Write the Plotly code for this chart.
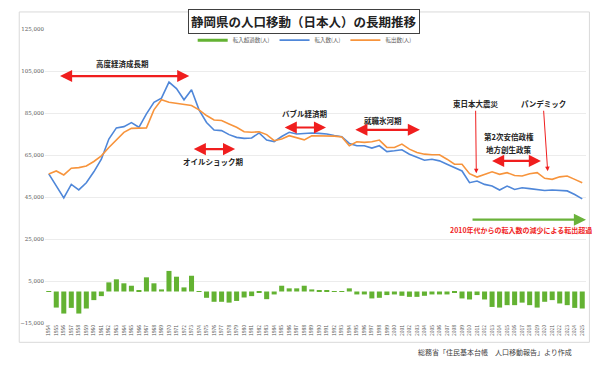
import plotly.graph_objects as go

years = list(range(1954, 2026))
inflow = [56000, 50500, 44600, 51000, 48400, 51800, 57000, 63000, 72600, 77900,
          78500, 80400, 78200, 84600, 90100, 92100, 99700, 96600, 91300, 96100,
          86500, 80500, 76900, 76600, 74700, 73400, 72900, 73100, 75500, 72100,
          71400, 73800, 75800, 75000, 75300, 75500, 75300, 75000, 74300, 73700,
          70500, 69400, 69400, 68300, 69400, 66600, 67000, 67500, 65400, 63800,
          62500, 63000, 62200, 60600, 59000, 57400, 51800, 52600, 51000, 50200,
          48300, 50200, 48600, 49400, 49000, 48600, 48100, 48300, 48100, 47900,
          46200, 44100]
outflow = [56000, 57400, 55500, 58700, 59000, 59800, 61900, 64600, 68600, 72100,
           75800, 77700, 77900, 77900, 86500, 91300, 90100, 89700, 89300, 88600,
           86500, 83800, 81700, 81400, 79800, 78200, 76100, 75800, 76100, 74700,
           71800, 72600, 74200, 73100, 72200, 74200, 74200, 74200, 74000, 73600,
           69400, 71300, 71000, 71300, 72100, 68600, 68600, 70200, 67800, 66200,
           65400, 65100, 65100, 63000, 60600, 60600, 56100, 54500, 55800, 57000,
           55800, 56600, 55200, 55000, 56100, 56600, 53900, 53400, 54600, 55000,
           53400, 51800]
net = [-200, -7650, -10500, -7800, -10500, -8100, -4100, -2200, 4350, 5800,
       3900, 2750, 300, 6750, 3900, 1000, 9800, 7050, 1950, 7500,
       200, -3000, -4900, -4900, -5300, -4500, -2850, -2200, -500, -3650,
       -1400, 2750, 1500, 1500, 2750, 1000, 700, 700, -200, -200,
       1500, -1400, -1400, -3300, -3000, -1700, -1400, -2050, -2550, -2550,
       -2050, -1400, -1400, -1400, -600, -3300, -3800, -1700, -3800, -7350,
       -7650, -6500, -6500, -5300, -6500, -7650, -4900, -4100, -5700, -6500,
       -7800, -8100]
y_ticks = [-15000, 5000, 25000, 45000, 65000, 85000, 105000, 125000]

GREEN = "#63b232"
BLUE = "#4f87d9"
ORANGE = "#f7943c"
RED = "#f01e1e"
JP = "Noto Sans CJK JP"

fig = go.Figure()
fig.add_trace(go.Bar(x=years, y=net, name="転入超過数(人)", marker_color=GREEN,
                     marker_line_width=0, showlegend=False, legendgroup="net"))
fig.add_trace(go.Scatter(x=[None], y=[None], name="転入超過数(人)", mode="lines",
                         line=dict(color=GREEN, width=3), legendgroup="net"))
fig.add_trace(go.Scatter(x=years, y=inflow, name="転入数(人)", mode="lines",
                         line=dict(color=BLUE, width=1.6)))
fig.add_trace(go.Scatter(x=years, y=outflow, name="転出数(人)", mode="lines",
                         line=dict(color=ORANGE, width=1.6)))

# page body has an 8px margin; the figure is sized/offset to compensate
fig.update_layout(
    width=592, height=357,
    margin=dict(l=28, r=13.5, t=21, b=42.3),
    paper_bgcolor="white", plot_bgcolor="white",
    bargap=0.33,
    font=dict(family=JP, color="#595959"),
    showlegend=True,
    legend=dict(orientation="h", x=0.48, xanchor="center", y=0.962, yanchor="middle",
                font=dict(size=5.5, color="#595959"), bgcolor="rgba(0,0,0,0)",
                itemwidth=30, tracegroupgap=0),
)
fig.update_xaxes(range=[1953.5, 2025.5], tickmode="array", tickvals=years,
                 ticktext=[str(y) for y in years], tickangle=-90,
                 tickfont=dict(size=5, color="#595959"), showgrid=False,
                 zeroline=False, showline=False, ticks="")
fig.update_yaxes(range=[-15000, 125000], tickmode="array", tickvals=y_ticks,
                 tickformat=",", tickfont=dict(size=5.5, color="#595959", family="DejaVu Serif"),
                 showgrid=True, gridcolor="#ececec", gridwidth=1, zeroline=False,
                 showline=False, ticks="")

shapes = [dict(type="rect", xref="paper", yref="paper", x0=-0.0476, x1=1.0063,
               y0=-0.0657, y1=1.058, line=dict(color="#d9d9d9", width=1),
               fillcolor="rgba(0,0,0,0)", layer="below")]
fig.update_layout(shapes=shapes)

ann = []
ann.append(dict(xref="paper", yref="paper", x=0.4794, y=1.0256, text="<b>静岡県の人口移動（日本人）の長期推移</b>",
                showarrow=False, font=dict(size=12.5, color="#222", family=JP),
                bordercolor="#404040", borderwidth=1, borderpad=2, bgcolor="white",
                xanchor="center", yanchor="middle"))

def dbl_arrow(x0, x1, y, color=RED, side="end+start"):
    ann.append(dict(x=x1, y=y, ax=x0, ay=y, xref="x", yref="y", axref="x", ayref="y",
                    text="", showarrow=True, arrowhead=2, arrowside=side, arrowsize=1.1,
                    arrowwidth=2.2, arrowcolor=color, startarrowhead=2, startarrowsize=1.1))

def label(x, y, text, size=7.5, color="#222"):
    ann.append(dict(x=x, y=y, xref="x", yref="y", text="<b>" + text + "</b>", showarrow=False,
                    font=dict(size=size, color=color, family=JP), xanchor="center", yanchor="middle"))

label(1963.8, 108800, "高度経済成長期")
dbl_arrow(1955.3, 1972.7, 102600)
dbl_arrow(1973.1, 1978.8, 67800)
label(1975.9, 61700, "オイルショック期")
label(1988.1, 84700, "バブル経済期")
dbl_arrow(1985.2, 1990.9, 78100)
label(1998.5, 81400, "就職氷河期")
dbl_arrow(1994.6, 2003.4, 77000)
ann.append(dict(x=2010.9, y=56300, ax=2010.8, ay=89400, xref="x", yref="y", axref="x", ayref="y",
                text="<b>東日本大震災</b>", showarrow=True, arrowhead=2, arrowsize=0.9,
                arrowwidth=1, arrowcolor=RED, font=dict(size=7.5, color="#222", family=JP)))
ann.append(dict(x=2020.4, y=57300, ax=2019.8, ay=89400, xref="x", yref="y", axref="x", ayref="y",
                text="<b>パンデミック</b>", showarrow=True, arrowhead=2, arrowsize=0.9,
                arrowwidth=1, arrowcolor=RED, font=dict(size=7.5, color="#222", family=JP)))
label(2015.3, 73700, "第2次安倍政権")
label(2015.3, 67450, "地方創生政策")
dbl_arrow(2012.8, 2019.5, 62200)
ann.append(dict(x=2025.5, y=34200, ax=2010.2, ay=34200, xref="x", yref="y", axref="x", ayref="y",
                text="", showarrow=True, arrowhead=2, arrowsize=1.1, arrowwidth=2.2,
                arrowcolor="#6ab23a"))
label(2016.8, 29100, "2010年代からの転入数の減少による転出超過", size=7, color=RED)
ann.append(dict(xref="paper", yref="paper", x=0.8325, y=-0.0987, text="総務省「住民基本台帳　人口移動報告」より作成",
                showarrow=False, font=dict(size=7, color="#404040", family=JP),
                xanchor="center", yanchor="middle"))
fig.update_layout(annotations=ann)

fig.write_html("out.html")
